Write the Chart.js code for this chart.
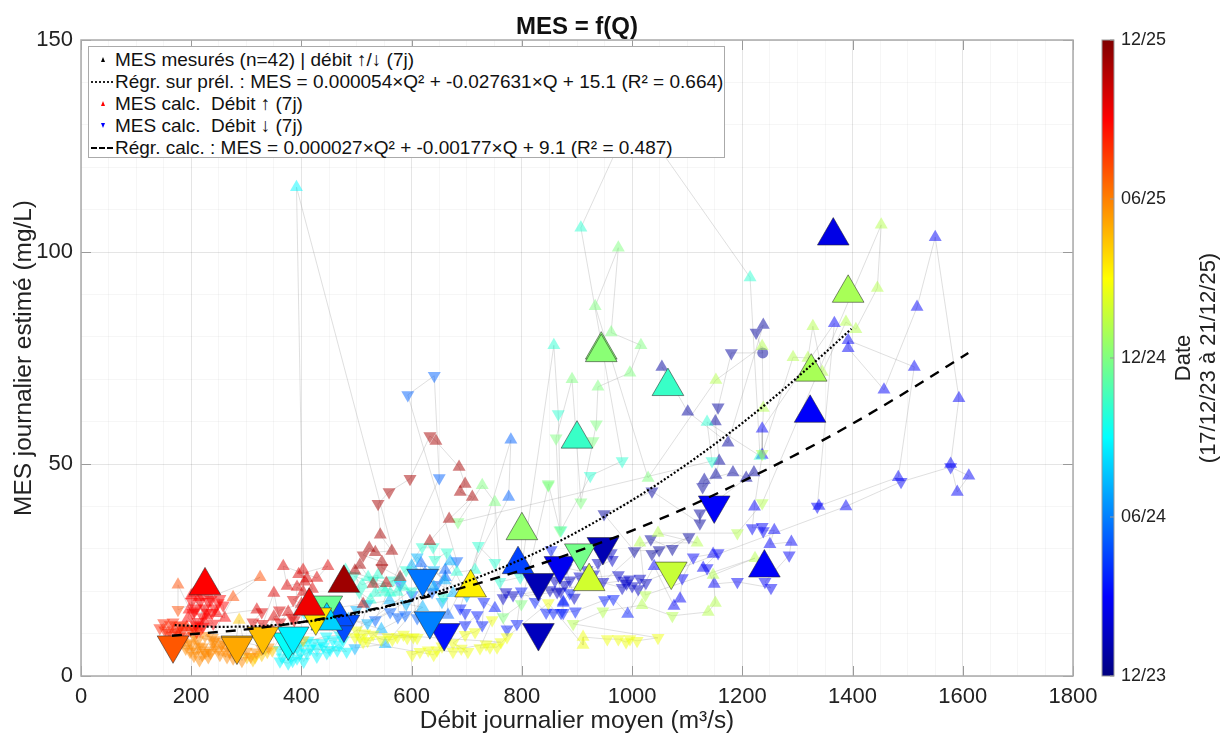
<!DOCTYPE html>
<html lang="fr">
<head>
<meta charset="utf-8">
<title>MES = f(Q)</title>
<script src="https://cdn.jsdelivr.net/npm/chart.js@4"></script>
<style>
  html, body { margin: 0; padding: 0; background: #fff; }
  #wrap { position: relative; width: 1224px; height: 733px; overflow: hidden; font-family: "Liberation Sans", Arial, sans-serif; }
  #legend { position: absolute; left: 88px; top: 46px; width: 637px; height: 112px; box-sizing: border-box; background: #fff; border: 1px solid #aaa; color: #111; font-size: 19px; }
  #legend .row { position: absolute; left: 26px; white-space: pre; line-height: 20px; }
  #legend .key { position: absolute; left: -24px; top: 9px; width: 22px; height: 0; }
  .tri { position: absolute; left: 10px; top: -2px; width: 0; height: 0; border-left: 2.5px solid transparent; border-right: 2.5px solid transparent; }
</style>
</head>
<body>
<div id="wrap">
  <canvas id="chart" width="1224" height="733"></canvas>
  <div id="legend">
    <div class="row" style="top:3px"><span class="key"><span class="tri" style="border-bottom:5px solid #000"></span></span>MES mesurés (n=42) | débit ↑/↓ (7j)</div>
    <div class="row" style="top:25px"><span class="key" style="border-top:2px dotted #222"></span>Régr. sur prél. : MES = 0.000054×Q² + -0.027631×Q + 15.1 (R² = 0.664)</div>
    <div class="row" style="top:47px"><span class="key"><span class="tri" style="border-bottom:5px solid #f00"></span></span>MES calc.  Débit ↑ (7j)</div>
    <div class="row" style="top:69px"><span class="key"><span class="tri" style="border-top:5px solid #00f"></span></span>MES calc.  Débit ↓ (7j)</div>
    <div class="row" style="top:91px"><span class="key" style="border-top:2px dashed #000"></span>Régr. calc. : MES = 0.000027×Q² + -0.00177×Q + 9.1 (R² = 0.487)</div>
  </div>
</div>
<script>
// tick labels
const xLabels = [0, 200, 400, 600, 800, 1000, 1200, 1400, 1600, 1800];
const yLabels = [0, 50, 100, 150];
const dateLabels = ['12/23', '06/24', '12/24', '06/25', '12/25'];
const dateTicks = [0, 0.25, 0.5, 0.75, 1];

// daily points, date order. date = position on the colour bar (0 = 12/23, 1 = 12/25), dir: 1 rising, -1 falling, 0 no trend
const dateA = 0.03;
const qA = [1054, 1101, 1174, 1238, 1225, 1237, 1180, 1156, 1151, 1158, 1152, 1128, 1131, 1183, 1207, 1221, 1123, 1123, 1036, 949, 1004, 1049, 1036, 1103, 1073, 1034];
const mesA = [72.9, 62.3, 55, 82.8, 81, 76.2, 76.2, 63.4, 60, 50.7, 47.4, 44.6, 46.2, 48, 46.7, 48, 38.4, 36, 43.6, 38.2, 29.5, 29.7, 28.8, 32.8, 30, 32.3];
const dirA = [1, 1, 1, 1, -1, 0, -1, -1, 1, 1, 1, -1, 1, 1, 1, 1, -1, -1, -1, -1, -1, -1, -1, -1, -1, -1];

const dateB = 0.07;
const qB = [947, 938, 962, 964, 887, 878, 870, 851, 864, 766, 771, 784, 985, 990, 995, 1014, 1025, 1011, 982, 905, 918, 930, 880, 895, 860, 975, 1000];
const mesB = [22.2, 26.7, 29, 27.4, 22.6, 21.5, 20, 20.3, 19.8, 18.4, 19.8, 19.1, 22.5, 21.8, 22.8, 23, 22, 20.5, 20.8, 23.5, 25, 24, 25.5, 18.5, 22.5, 23.8, 21.2];
const dirB = [-1, -1, -1, -1, -1, -1, -1, -1, -1, -1, -1, -1, -1, -1, -1, -1, -1, -1, -1, -1, -1, -1, -1, -1, -1, -1, -1];

const dateC = 0.12;
const qC = [1388, 1488, 1578, 1611, 1590, 1578, 1593, 1550, 1517, 1457, 1392, 1392, 1512, 1483, 1339, 1336, 1367, 1236, 1236, 1222, 1218, 1236, 1238, 1258, 1250, 1289, 1285, 1241, 1252, 1191, 1149, 1136, 1129, 1156, 1147, 1111, 1091, 1087, 1076, 1040];
const mesC = [40, 45.8, 49.3, 47.2, 43.4, 50, 65.5, 103.5, 87, 67.5, 77.3, 79.2, 72.9, 46.9, 40.1, 40, 83.2, 58.3, 52.1, 39.9, 34.9, 35.2, 34.2, 34.4, 31.1, 31.6, 28.5, 22.2, 20.8, 22.2, 21.7, 25.5, 25.5, 29, 28.8, 28, 23.1, 18.2, 16.5, 25.9];
const dirC = [1, -1, -1, 1, 1, 1, 1, 1, 1, 1, 1, 1, 1, 1, 1, -1, 1, 1, 1, 1, -1, -1, -1, 1, 1, 1, -1, -1, -1, -1, 1, -1, 1, -1, 1, -1, -1, 1, 1, 1];

const dateD = 0.15;
const qD = [992, 966, 950, 897, 875, 875, 887, 853, 875, 871, 857, 844, 824, 799, 791, 773, 751, 731, 728, 719, 697, 697, 688];
const mesD = [14.6, 18.2, 17.9, 15.3, 14.9, 17.5, 19.6, 29.7, 17.2, 14.9, 14.9, 15, 17.5, 20, 12.3, 11, 16, 17.5, 12, 14.4, 12, 14.9, 16];
const dirD = [1, -1, -1, -1, -1, 1, -1, -1, 1, -1, -1, -1, -1, -1, -1, -1, 1, -1, -1, -1, -1, -1, -1];

const dateE = 0.22;
const qE = [780, 776, 666, 661, 661, 646, 637, 624, 617, 610, 601, 588, 579, 575, 561, 534, 650, 641, 593, 682];
const mesE = [55.7, 42.2, 14.4, 25, 23.3, 21.5, 19.8, 24.3, 26.6, 13.7, 19.1, 14.4, 21.5, 13.9, 15.1, 13.2, 46.7, 70.8, 66.3, 27.1];
const dirE = [1, 1, 1, 1, 1, -1, -1, 1, 1, -1, -1, -1, -1, -1, -1, -1, -1, -1, -1, -1];

const dateF = 0.3;
const qF = [552, 497, 520, 560, 590, 620, 545, 470, 500, 485, 520, 640, 655, 675, 600, 610, 660, 640, 700, 670];
const mesF = [7.5, 6.6, 17, 17.8, 17, 16.2, 11, 14, 15.6, 13.4, 12.5, 21, 17.5, 19.5, 26, 28, 22.5, 25, 19, 27];
const dirF = [1, -1, -1, 1, -1, 1, 1, -1, -1, 1, -1, 1, -1, 1, 1, -1, 1, -1, -1, 1];

const dateG = 0.37;
const qG = [476, 457, 437, 421, 465, 446, 428, 410, 392, 376, 361, 365, 372, 384, 398, 404, 416, 428, 440, 452, 468, 482, 392, 412, 380, 400, 360, 445, 470, 405, 391, 579];
const mesG = [8.5, 8.5, 7.8, 7.8, 6.1, 5.4, 6.6, 5.4, 4.2, 3, 3.5, 4.4, 6, 3.6, 5.4, 3.4, 6.4, 4.6, 7, 6.2, 7.4, 5.8, 6.6, 8.4, 5, 7.2, 6.2, 9.4, 9.6, 15, 115.3, 23];
const dirG = [-1, -1, -1, -1, -1, -1, -1, -1, -1, -1, -1, -1, -1, -1, -1, -1, -1, -1, -1, -1, -1, -1, -1, -1, -1, -1, -1, -1, -1, -1, 1, 1];

const dateH = 0.42;
const qH = [521, 539, 534, 552, 561, 574, 495, 510, 530, 548, 566, 585, 600, 480, 505, 525, 590, 619, 639, 642, 664, 657, 682, 715, 721, 751, 760, 797, 858, 866, 871, 924, 982, 907, 1003, 1214, 1232, 1136, 1145];
const mesH = [23.3, 23.8, 19.6, 19.8, 19.6, 19.8, 23.6, 21.5, 22.5, 20.8, 22.6, 21, 20, 25, 19.8, 18, 25, 30.4, 30.4, 27.4, 29.2, 18.6, 24.5, 25, 30.7, 26.7, 22.2, 23.3, 78, 61.8, 34.4, 47.2, 50.7, 105.7, 133, 94, 51.9, 59.9, 50.7];
const dirH = [1, 1, 1, 1, 1, 1, -1, 1, -1, 1, -1, 1, -1, 1, -1, 1, -1, -1, -1, -1, -1, -1, 1, 1, -1, -1, -1, -1, 1, -1, -1, -1, -1, 1, 1, 1, 1, 1, -1];

const dateI = 0.5;
const qI = [684, 728, 751, 766, 799, 848, 848, 869, 862, 891, 907, 929, 935, 938, 996, 1016, 962, 975, 933, 1029];
const mesI = [36.3, 45, 41, 13.9, 17, 45, 45.3, 34.4, 56.1, 70, 41, 55.4, 59.4, 68.2, 71.5, 78, 81, 101, 87.2, 46.7];
const dirI = [-1, 1, 1, -1, -1, -1, -1, -1, -1, 1, -1, -1, -1, 1, 1, 1, 1, 1, 1, 1];

const dateJ = 0.55;
const qJ = [1152, 1236, 1238, 1236, 1292, 1319, 1328, 1345, 1388, 1406, 1445, 1452, 1236, 1191, 1047, 1118, 1014, 1024, 1223, 1147, 1151, 1138, 1073, 1018, 947, 893];
const mesJ = [69.8, 77.8, 63.2, 52.4, 75.2, 75, 82.5, 71.7, 83.5, 81.8, 91.5, 106.4, 40.8, 33.7, 33.7, 31.4, 31.4, 19.1, 27.8, 23.8, 17.2, 15.1, 14.2, 16.7, 15.3, 12.3];
const dirJ = [1, 1, 1, -1, 1, 1, 1, 1, 1, 1, 1, 1, -1, -1, 1, 1, 1, -1, 1, 1, 1, 1, -1, 1, -1, -1];

const dateK = 0.61;
const qK = [1047, 1009, 996, 989, 975, 955, 911, 911, 848, 773, 755, 742, 724, 746, 715, 697, 675, 702, 675, 646, 630, 615, 601, 603, 592, 574, 557, 520, 530, 545, 565, 585, 610, 500, 512, 640, 655, 690, 735, 762, 515, 506, 497];
const mesK = [9, 8.3, 8.7, 8, 8.7, 8.7, 9.2, 7.3, 17.2, 9.2, 6.8, 6.8, 6.6, 13.2, 10.4, 9.7, 7.8, 5.7, 5.7, 6.1, 6.1, 5.7, 5, 9.2, 9, 9.2, 9.2, 8.3, 9.8, 8.6, 8.6, 9.8, 9, 10.8, 8, 5, 7, 6.5, 7.5, 8, 10.1, 9, 9.2];
const dirK = [-1, -1, -1, -1, -1, -1, 1, 1, -1, -1, -1, -1, -1, -1, -1, -1, -1, -1, -1, -1, -1, -1, -1, -1, -1, -1, -1, -1, -1, -1, -1, -1, -1, -1, -1, -1, -1, -1, -1, -1, -1, -1, -1];

const dateL = 0.68;
const qL = [403, 361, 347, 338, 328, 316, 312, 301, 287];
const mesL = [8.5, 9, 6.1, 5.7, 5, 4.5, 3.8, 4.5, 13.2];
const dirL = [-1, -1, -1, -1, -1, -1, -1, -1, 1];

const dateM = 0.74;
const qM = [276, 265, 252, 243, 243, 232, 231, 220, 212, 207, 198, 194, 185, 190, 200, 205, 215, 220, 225, 235, 240, 250, 255, 262, 270, 280, 285, 292, 300, 308, 318, 328, 340, 225, 238, 258, 268, 205, 215];
const mesM = [4.2, 4.5, 5, 6.8, 8.5, 6.1, 4.5, 5, 8.5, 6.1, 5.7, 7.8, 8, 6.5, 7.5, 4.8, 7, 6.8, 5.5, 5.5, 8, 6.3, 7.4, 6, 5.8, 5.2, 6.5, 3.6, 5.8, 4.6, 5.6, 6.4, 6.8, 9.5, 9, 8, 7.2, 9.5, 3.8];
const dirM = [-1, -1, -1, -1, -1, -1, -1, -1, -1, -1, -1, -1, -1, -1, -1, -1, -1, -1, -1, -1, -1, -1, -1, -1, -1, -1, -1, -1, -1, -1, -1, -1, -1, -1, -1, -1, -1, -1, -1];

const dateN = 0.8;
const qN = [276, 325, 176, 176];
const mesN = [18.6, 23.3, 15.6, 21.5];
const dirN = [1, 1, -1, 1];

const dateO = 0.84;
const qO = [216, 210, 198, 185, 183, 174, 167, 162, 152, 143, 150, 158, 170, 180, 192, 204, 165, 176, 188, 210];
const mesO = [10.8, 10.4, 10.8, 10.8, 12, 10.4, 12.7, 12, 10.8, 11.3, 12.5, 10.2, 11, 11.8, 11.5, 11.2, 9.6, 9.6, 9.4, 11.8];
const dirO = [-1, -1, -1, -1, -1, -1, -1, -1, -1, -1, -1, -1, 1, -1, 1, -1, -1, 1, -1, -1];

const dateP = 0.875;
const qP = [194, 201, 203, 210, 216, 221, 221, 225, 231, 238, 243, 249, 258, 261, 196, 206, 214, 228, 236, 246, 252, 204, 218, 232, 212, 224, 240, 200, 208, 228];
const mesP = [13.7, 17.5, 14.9, 16, 17.5, 13.9, 11.6, 16, 17.5, 14.9, 16, 17.2, 16.7, 13.7, 15.6, 15.3, 18.6, 15, 18, 14.8, 18.2, 19.4, 19.2, 19, 12.8, 12.6, 12.4, 19, 12, 14.2];
const dirP = [1, -1, -1, -1, -1, -1, -1, -1, -1, -1, -1, -1, -1, 1, 1, -1, 1, -1, -1, 1, -1, 1, -1, 1, -1, 1, -1, 1, -1, 1];

const dateQ = 0.91;
const qQ = [319, 328, 312, 330, 350, 361, 376, 383, 387, 392, 403, 403, 406, 374, 367, 428, 448, 395, 410, 420, 385, 400, 360, 340, 350];
const mesQ = [15.6, 15.1, 12.7, 12.3, 19.6, 12.7, 15.1, 13.7, 13.2, 21, 19.8, 25, 22.2, 21.2, 25.9, 23.1, 25.9, 24, 23, 20.5, 18, 17, 15.5, 11, 14];
const dirQ = [1, -1, -1, -1, 1, -1, 1, -1, -1, 1, 1, 1, 1, 1, 1, 1, 1, 1, 1, 1, -1, 1, -1, -1, 1];

const dateR = 0.96;
const qR = [512, 497, 506, 530, 554, 579, 546, 546, 512, 523, 534, 564, 543, 539, 559, 597, 633, 644, 686, 697, 688, 710, 668, 633];
const mesR = [17, 24.8, 26.2, 21.7, 21.9, 23.3, 25.5, 26.9, 28.5, 30.2, 29.2, 29.5, 33.3, 40.6, 43.4, 46.5, 56.6, 55.4, 49.3, 45.3, 43.4, 42.2, 37, 31.8];
const dirR = [1, 1, 1, 1, 1, 1, -1, 1, -1, 1, 1, 1, 1, -1, -1, -1, -1, 1, 1, 1, 1, 1, 1, 1];

// measured samples drawn with the large markers
const qMeasured = [1365, 1323, 1240, 793, 1149, 947, 869, 830, 830, 659, 633, 620, 477, 466, 1065, 900, 376, 385, 446, 906, 800, 944, 944, 446, 1392, 1325, 922, 1071, 707, 426, 330, 283, 283, 167, 225, 414, 477];
const mesMeasured = [103.8, 62, 25.5, 26.3, 40.3, 30.5, 26, 22, 10.2, 10.2, 13, 23, 12.2, 14, 68.3, 55.9, 8, 9.4, 16.7, 29, 34.3, 76.9, 76.3, 13, 90.3, 71.7, 22.3, 24.7, 20.8, 13.9, 9.4, 7.3, 7, 7.3, 21.3, 16.5, 21.9];
const dirMeasured = [1, 1, 1, 1, -1, -1, -1, -1, -1, -1, -1, -1, -1, 1, 1, 1, -1, -1, -1, -1, 1, 1, 1, 1, 1, 1, 1, -1, 1, -1, -1, -1, -1, -1, 1, 1, 1];
const dateMeasured = [0.1, 0.12, 0.12, 0.19, 0.12, 0.05, 0.11, 0.05, 0.06, 0.14, 0.25, 0.24, 0.2, 0.2, 0.43, 0.43, 0.38, 0.36, 0.48, 0.49, 0.52, 0.51, 0.51, 0.33, 0.54, 0.54, 0.58, 0.57, 0.64, 0.65, 0.69, 0.7, 0.71, 0.79, 0.875, 0.89, 0.97];

// regression curves
const qFitSample = [170, 250, 350, 450, 550, 650, 750, 850, 950, 1050, 1150, 1250, 1350, 1398];
const mesFitSample = [12, 11.6, 12, 13.6, 16.2, 20, 24.8, 30.6, 37.6, 45.6, 54.7, 64.9, 76.2, 81.9];
const qFitCalc = [165, 300, 400, 500, 600, 700, 800, 900, 1000, 1100, 1200, 1300, 1400, 1500, 1610];
const mesFitCalc = [9.5, 11, 12.7, 15, 17.8, 21.1, 25, 29.4, 34.3, 39.8, 45.9, 52.4, 59.5, 67.2, 76.2];

const phaseDates = [dateA, dateB, dateC, dateD, dateE, dateF, dateG, dateH, dateI, dateJ, dateK, dateL, dateM, dateN, dateO, dateP, dateQ, dateR];
const phaseQ = [qA, qB, qC, qD, qE, qF, qG, qH, qI, qJ, qK, qL, qM, qN, qO, qP, qQ, qR];
const phaseMes = [mesA, mesB, mesC, mesD, mesE, mesF, mesG, mesH, mesI, mesJ, mesK, mesL, mesM, mesN, mesO, mesP, mesQ, mesR];
const phaseDir = [dirA, dirB, dirC, dirD, dirE, dirF, dirG, dirH, dirI, dirJ, dirK, dirL, dirM, dirN, dirO, dirP, dirQ, dirR];

function jet(f, alpha) {
  function ch(c) { return Math.round(255 * Math.max(0, Math.min(1, 1.5 - Math.abs(4 * f - c)))); }
  return 'rgba(' + ch(3) + ',' + ch(2) + ',' + ch(1) + ',' + alpha + ')';
}

function markerStyle(d) { return d === 0 ? 'circle' : 'triangle'; }
function markerRotation(d) { return d < 0 ? 180 : 0; }

const daily = [];
const dailyColors = [];
const dailyStyles = [];
const dailyRotations = [];
const dailySizes = [];
phaseQ.forEach(function (qs, p) {
  qs.forEach(function (q, i) {
    daily.push({ x: q, y: phaseMes[p][i] });
    dailyColors.push(jet(phaseDates[p], 0.5));
    dailyStyles.push(markerStyle(phaseDir[p][i]));
    dailyRotations.push(markerRotation(phaseDir[p][i]));
    dailySizes.push(phaseDir[p][i] === 0 ? 5.5 : 7.5);
  });
});

function toPoints(qs, values) {
  return qs.map(function (q, i) { return { x: q, y: values[i] }; });
}

const fontFamily = '"Liberation Sans", Arial, sans-serif';

const frame = {
  id: 'frame',
  afterDatasetsDraw: function (chart) {
    const ctx = chart.ctx;
    const a = chart.chartArea;
    const x = chart.scales.x;
    const y = chart.scales.y;
    const tick = 10;
    ctx.save();
    ctx.strokeStyle = '#9a9a9a';
    ctx.lineWidth = 1;
    ctx.beginPath();
    xLabels.forEach(function (v) {
      const px = Math.round(x.getPixelForValue(v)) + 0.5;
      ctx.moveTo(px, a.bottom); ctx.lineTo(px, a.bottom - tick);
      ctx.moveTo(px, a.top); ctx.lineTo(px, a.top + tick);
    });
    yLabels.forEach(function (v) {
      const py = Math.round(y.getPixelForValue(v)) + 0.5;
      ctx.moveTo(a.left, py); ctx.lineTo(a.left + tick, py);
      ctx.moveTo(a.right, py); ctx.lineTo(a.right - tick, py);
    });
    ctx.stroke();
    ctx.lineWidth = 1.5;
    ctx.strokeStyle = '#aaa';
    ctx.strokeRect(a.left, a.top, a.right - a.left, a.bottom - a.top);
    ctx.restore();
  },
};

const colorbar = {
  id: 'colorbar',
  afterDraw: function (chart) {
    const ctx = chart.ctx;
    const a = chart.chartArea;
    const left = 1102;
    const width = 12;
    const grad = ctx.createLinearGradient(0, a.bottom, 0, a.top);
    for (let i = 0; i <= 40; i++) grad.addColorStop(i / 40, jet(i / 40, 1));
    ctx.save();
    ctx.fillStyle = grad;
    ctx.fillRect(left, a.top, width, a.bottom - a.top);
    ctx.strokeStyle = '#999';
    ctx.lineWidth = 1;
    ctx.strokeRect(left, a.top, width, a.bottom - a.top);
    ctx.fillStyle = '#222';
    ctx.font = '18px ' + fontFamily;
    ctx.textBaseline = 'middle';
    dateLabels.forEach(function (label, i) {
      const py = a.bottom - dateTicks[i] * (a.bottom - a.top);
      ctx.beginPath();
      ctx.moveTo(left + width - 4, py);
      ctx.lineTo(left + width, py);
      ctx.stroke();
      ctx.fillText(label, 1121, py);
    });
    ctx.font = '22px ' + fontFamily;
    ctx.translate(1197, 358);
    ctx.rotate(-Math.PI / 2);
    ctx.textAlign = 'center';
    ctx.fillText('Date', 0, -13);
    ctx.fillText('(17/12/23 à 21/12/25)', 0, 12);
    ctx.restore();
  },
};

new Chart(document.getElementById('chart'), {
  type: 'scatter',
  data: {
    datasets: [
      {
        label: 'Régr. sur prél.',
        data: toPoints(qFitSample, mesFitSample),
        showLine: true,
        borderColor: '#000',
        borderWidth: 2.2,
        borderDash: [2, 2],
        cubicInterpolationMode: 'monotone',
        pointRadius: 0,
      },
      {
        label: 'Régr. calc.',
        data: toPoints(qFitCalc, mesFitCalc),
        showLine: true,
        borderColor: '#000',
        borderWidth: 2.4,
        borderDash: [10, 8],
        cubicInterpolationMode: 'monotone',
        pointRadius: 0,
      },
      {
        label: 'MES mesurés',
        data: toPoints(qMeasured, mesMeasured),
        pointStyle: dirMeasured.map(markerStyle),
        pointRotation: dirMeasured.map(markerRotation),
        pointRadius: 18.3,
        pointBackgroundColor: dateMeasured.map(function (d) { return jet(d, 1); }),
        pointBorderColor: 'rgba(40,40,40,0.55)',
        pointBorderWidth: 1,
      },
      {
        label: 'MES calc.',
        data: daily,
        pointStyle: dailyStyles,
        pointRotation: dailyRotations,
        pointRadius: dailySizes,
        pointBackgroundColor: dailyColors,
        pointBorderWidth: 0,
      },
      {
        label: 'trajet',
        data: daily,
        showLine: true,
        borderColor: 'rgba(150,150,150,0.3)',
        borderWidth: 1,
        pointRadius: 0,
      },
    ],
  },
  options: {
    responsive: false,
    animation: false,
    events: [],
    layout: { autoPadding: false, padding: { right: 151 } },
    plugins: {
      legend: { display: false },
      tooltip: { enabled: false },
      title: {
        display: true,
        text: 'MES = f(Q)',
        color: '#111',
        fullSize: false,
        font: { family: fontFamily, size: 24, weight: 'bold', lineHeight: 1 },
        padding: { top: 15, bottom: 1 },
      },
    },
    scales: {
      x: {
        type: 'linear',
        min: 0,
        max: 1800,
        afterFit: function (scale) { scale.height = 57; },
        afterBuildTicks: function (scale) {
          const ticks = [];
          for (let v = 0; v <= 1800; v += 50) ticks.push({ value: v });
          scale.ticks = ticks;
        },
        grid: {
          color: function (c) { return c.tick.value % 200 === 0 ? 'rgba(0,0,0,0.1)' : 'rgba(0,0,0,0.035)'; },
          drawTicks: false,
        },
        border: { display: false },
        ticks: {
          autoSkip: false,
          maxRotation: 0,
          padding: 8,
          color: '#222',
          font: { family: fontFamily, size: 22 },
          callback: function (v) { return xLabels.indexOf(v) >= 0 ? String(v) : ''; },
        },
        title: {
          display: true,
          text: 'Débit journalier moyen (m³/s)',
          color: '#222',
          padding: { top: 0, bottom: 0 },
          font: { family: fontFamily, size: 24.4, lineHeight: 1 },
        },
      },
      y: {
        type: 'linear',
        min: 0,
        max: 150,
        afterFit: function (scale) { scale.width = 81; },
        afterBuildTicks: function (scale) {
          const ticks = [];
          for (let v = 0; v <= 150; v += 10) ticks.push({ value: v });
          scale.ticks = ticks;
        },
        grid: {
          color: function (c) { return c.tick.value % 50 === 0 ? 'rgba(0,0,0,0.1)' : 'rgba(0,0,0,0.035)'; },
          drawTicks: false,
        },
        border: { display: false },
        ticks: {
          autoSkip: false,
          padding: 8,
          color: '#222',
          font: { family: fontFamily, size: 22 },
          callback: function (v) { return yLabels.indexOf(v) >= 0 ? String(v) : ''; },
        },
        title: {
          display: true,
          text: 'MES journalier estimé (mg/L)',
          color: '#222',
          padding: { top: 12, bottom: 0 },
          font: { family: fontFamily, size: 24.4, lineHeight: 1 },
        },
      },
    },
  },
  plugins: [frame, colorbar],
});
</script>
</body>
</html>
